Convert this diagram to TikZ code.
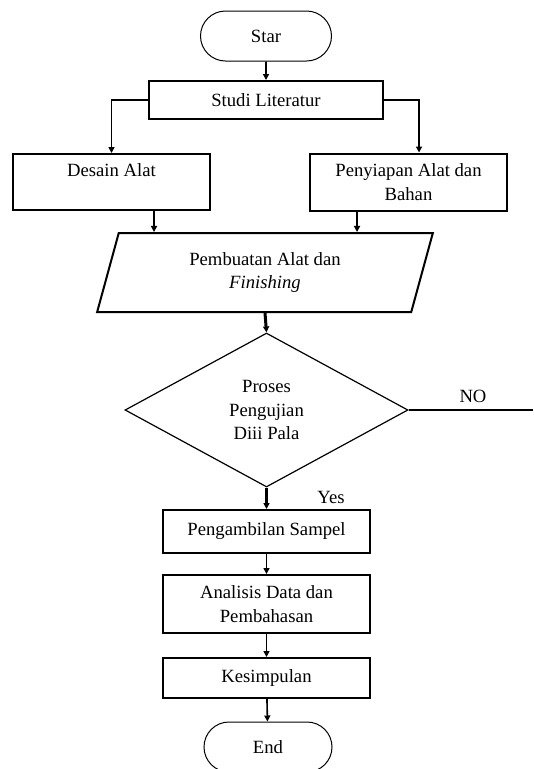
\documentclass[tikz,border=0pt]{standalone}
\usepackage{fontspec}
\setmainfont{Liberation Serif}
\usetikzlibrary{shapes.geometric,shapes.misc,arrows.meta}

\tikzset{every picture/.style={line width=0.75pt}}
\tikzset{
  kotak/.style={draw,line width=1.5pt,rectangle,inner sep=0.75pt,align=center},
  terminal/.style={draw,line width=0.75pt,rounded rectangle,inner sep=0.75pt,align=center},
  panah/.style={line width=1.2pt,-{Triangle[length=4.5pt,width=4.5pt]}},
  garis/.style={line width=1.2pt}
}

\begin{document}
\begin{tikzpicture}[x=0.75pt,y=0.75pt,yscale=-1,xscale=1]
\fontsize{14}{17.5}\selectfont
\useasboundingbox (0,0) rectangle (533,769);

%Shape: Terminal
\node [terminal,minimum width=99.75pt,minimum height=37.5pt] (star) at (266,36) {Star};
%Shape: Rectangle
\node [kotak,minimum width=175.5pt,minimum height=28.5pt] (studi) at (266,100) {Studi Literatur};
%Shape: Rectangle
\node [kotak,minimum width=147.75pt,minimum height=42pt] (desain) at (111.5,182) {Desain Alat\\~};
%Shape: Rectangle
\node [kotak,minimum width=147.75pt,minimum height=42.75pt] (penyiapan) at (408.5,182) {Penyiapan Alat dan\\Bahan};
%Shape: Parallelogram
\node [draw,line width=1.5pt,trapezium,trapezium left angle=75,trapezium right angle=105,trapezium stretches=true,minimum width=252pt,minimum height=59.25pt,inner sep=0.75pt,align=center] (pembuatan) at (265,272.5) {Pembuatan Alat dan\\\textit{Finishing}};
%Shape: Diamond
\node [draw,line width=0.9pt,diamond,minimum width=212.25pt,minimum height=115.5pt,inner sep=0pt,align=center] (uji) at (266.5,410) {Proses\\Pengujian\\Diii Pala};
%Shape: Rectangle
\node [kotak,minimum width=155.25pt,minimum height=32.25pt] (sampel) at (266.5,531.5) {Pengambilan Sampel};
%Shape: Rectangle
\node [kotak,minimum width=155.25pt,minimum height=43.5pt] (analisis) at (266.5,604) {Analisis Data dan\\Pembahasan};
%Shape: Rectangle
\node [kotak,minimum width=155.25pt,minimum height=30pt] (simpul) at (266.5,678) {Kesimpulan};
%Shape: Terminal
\node [terminal,minimum width=97.5pt,minimum height=37.5pt] (end) at (268,747) {End};

%Straight Lines
\draw [panah] (star) -- (studi);
\draw [panah] (studi.west) -| (desain.north);
\draw [panah] (studi.east) -| ([xshift=7.9pt]penyiapan.north);
\draw [panah] ([xshift=31.9pt]desain.south) -- ([xshift=31.9pt]desain.south |- pembuatan.north);
\draw [panah] ([xshift=-38.6pt]penyiapan.south) -- ([xshift=-38.6pt]penyiapan.south |- pembuatan.north);
\draw [panah,line width=2.25pt] (pembuatan.south) -- (uji.north);
\coordinate (tidak) at (533,410);
\draw [garis] (uji.east) -- (tidak);
\draw [panah,line width=2pt] (uji.south) -- (sampel.north);
\draw [panah] (sampel) -- (analisis);
\draw [panah] (analisis) -- (simpul);
\draw [panah] (simpul) -- (end);

% Text Node
\node [inner sep=0.75pt] (no) at (473,396) {NO};
% Text Node
\node [inner sep=0.75pt] (yes) at (331,497) {Yes};

\end{tikzpicture}
\end{document}
